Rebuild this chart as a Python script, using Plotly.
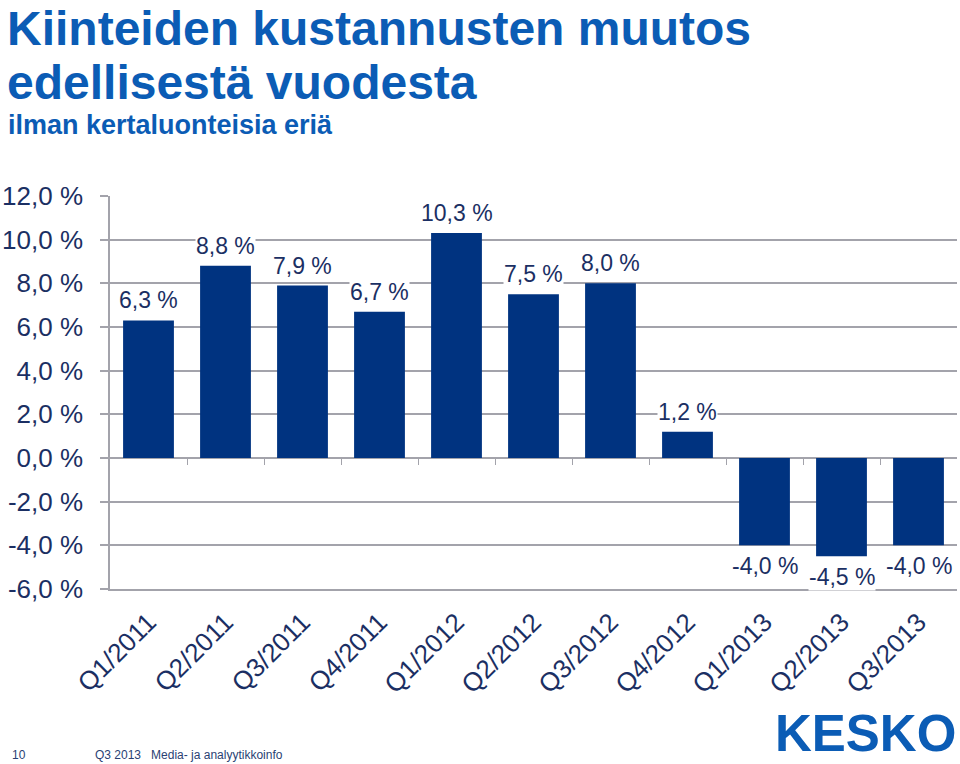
import plotly.graph_objects as go

categories = ["Q1/2011", "Q2/2011", "Q3/2011", "Q4/2011", "Q1/2012", "Q2/2012",
              "Q3/2012", "Q4/2012", "Q1/2013", "Q2/2013", "Q3/2013"]
values = [6.3, 8.8, 7.9, 6.7, 10.3, 7.5, 8.0, 1.2, -4.0, -4.5, -4.0]
value_labels = ["6,3 %", "8,8 %", "7,9 %", "6,7 %", "10,3 %", "7,5 %", "8,0 %",
                "1,2 %", "-4,0 %", "-4,5 %", "-4,0 %"]
y_tickvals = [-6, -4, -2, 0, 2, 4, 6, 8, 10, 12]
y_ticktext = ["-6,0 %", "-4,0 %", "-2,0 %", "0,0 %", "2,0 %", "4,0 %", "6,0 %",
              "8,0 %", "10,0 %", "12,0 %"]

W, H = 960, 764
ML, MR, MT, MB = 110, 3, 196, 175
PW, PH = W - ML - MR, H - MT - MB

def px(xp):
    return (xp - ML) / PW

def py(yp):
    return (H - MB - yp) / PH

NAVY = "#003380"
TXT = "#1b2f63"
BLUE = "#0b5cb5"
GRID = "#a3a3ab"
FONT = "Liberation Sans, Arial, sans-serif"

fig = go.Figure()
fig.add_trace(go.Bar(x=categories, y=values, marker=dict(color=NAVY, line=dict(width=0)),
                     hoverinfo="skip", showlegend=False))
fig.add_trace(go.Scatter(x=[], y=[], xaxis="x2", showlegend=False, hoverinfo="skip"))

for c, v, t in zip(categories, values, value_labels):
    if v >= 0:
        fig.add_annotation(x=c, y=v, text=t, showarrow=False, yanchor="bottom",
                           yshift=6, bgcolor="white", borderpad=0,
                           font=dict(family=FONT, size=23, color=TXT))
    else:
        fig.add_annotation(x=c, y=v, text=t, showarrow=False, yanchor="top",
                           yshift=-7, bgcolor="white", borderpad=0,
                           font=dict(family=FONT, size=23, color=TXT))

# Titles
fig.add_annotation(xref="paper", yref="paper", x=px(5), y=py(0), xanchor="left", yanchor="top",
                   text="<b>Kiinteiden kustannusten muutos</b>", showarrow=False,
                   font=dict(family=FONT, size=48, color=BLUE))
fig.add_annotation(xref="paper", yref="paper", x=px(5), y=py(54), xanchor="left", yanchor="top",
                   text="<b>edellisestä vuodesta</b>", showarrow=False,
                   font=dict(family=FONT, size=48, color=BLUE))
fig.add_annotation(xref="paper", yref="paper", x=px(6), y=py(108), xanchor="left", yanchor="top",
                   text="<b>ilman kertaluonteisia eriä</b>", showarrow=False,
                   font=dict(family=FONT, size=27, color=BLUE))

# Footer
fig.add_annotation(xref="paper", yref="paper", x=px(10), y=py(755), xanchor="left", yanchor="middle",
                   text="10", showarrow=False, font=dict(family=FONT, size=12, color="#2a3f73"))
fig.add_annotation(xref="paper", yref="paper", x=px(93), y=py(755), xanchor="left", yanchor="middle",
                   text="Q3 2013   Media- ja analyytikkoinfo", showarrow=False,
                   font=dict(family=FONT, size=12, color="#2a3f73"))
fig.add_annotation(xref="paper", yref="paper", x=px(958), y=py(764), xanchor="right", yanchor="bottom",
                   text="<b>KESKO</b>", showarrow=False,
                   font=dict(family=FONT, size=51, color=BLUE))

n = len(categories)
fig.update_layout(
    width=W, height=H,
    margin=dict(l=ML, r=MR, t=MT, b=MB, pad=0),
    paper_bgcolor="white", plot_bgcolor="white",
    bargap=0.34,
    font=dict(family=FONT, color=TXT),
    xaxis=dict(type="category", range=[-0.5, n - 0.5], showgrid=False, zeroline=False,
               showline=True, linecolor=GRID, linewidth=1.5, ticks="",
               tickangle=-45, tickfont=dict(family=FONT, size=26, color=TXT),
               ticklabelstandoff=6),
    xaxis2=dict(overlaying="x", anchor="free", position=6 / 18, range=[-0.5, n - 0.5],
                showgrid=False, zeroline=False, showline=False, showticklabels=False,
                ticks="outside", ticklen=6, tickwidth=1.2, tickcolor=GRID,
                tickvals=[i + 0.5 for i in range(n - 1)]),
    yaxis=dict(range=[-6, 12], tickvals=y_tickvals, ticktext=y_ticktext,
               showgrid=True, gridcolor=GRID, gridwidth=1.5,
               zeroline=True, zerolinecolor=GRID, zerolinewidth=1.5,
               showline=True, linecolor=GRID, linewidth=1.5,
               ticks="outside", ticklen=8, tickcolor=GRID, tickwidth=1.5,
               tickfont=dict(family=FONT, size=26, color=TXT), ticklabelstandoff=12),
)

fig.write_html("out.html", config={"displayModeBar": False},
               post_script="document.body.style.margin='0';")
